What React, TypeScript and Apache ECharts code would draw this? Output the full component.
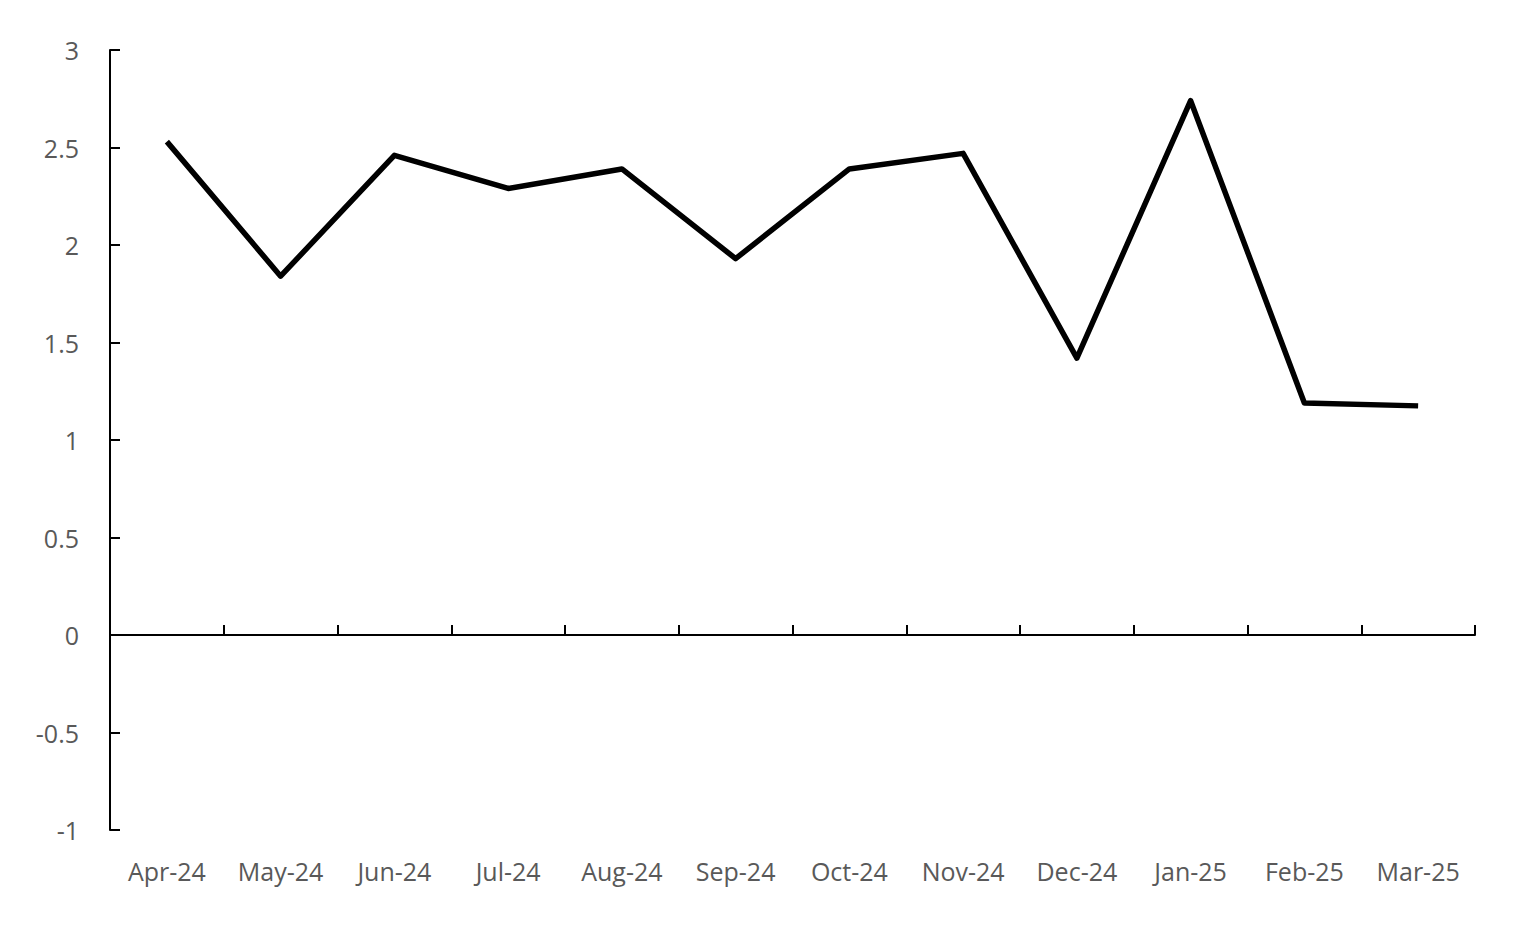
import React, { useEffect, useRef } from "react";
import * as echarts from "echarts";

const categories = ["Apr-24", "May-24", "Jun-24", "Jul-24", "Aug-24", "Sep-24", "Oct-24", "Nov-24", "Dec-24", "Jan-25", "Feb-25", "Mar-25"];
const values = [2.53, 1.84, 2.46, 2.29, 2.39, 1.93, 2.39, 2.47, 1.42, 2.74, 1.19, 1.175];

export default function App() {
  const ref = useRef<HTMLDivElement>(null);
  useEffect(() => {
    document.body.style.margin = "0";
    const chart = echarts.init(ref.current!, null, { renderer: "svg" });
    const labelStyle = { color: "#595959", fontSize: 25, fontFamily: "Open Sans" };
    chart.setOption({
      animation: false,
      backgroundColor: "#ffffff",
      grid: { left: 110, right: 61, top: 50, bottom: 101, containLabel: false },
      xAxis: [
        {
          type: "category",
          data: categories,
          position: "bottom",
          boundaryGap: true,
          axisLine: { show: false, onZero: false },
          axisTick: { show: false },
          axisLabel: { ...labelStyle, margin: 28, interval: 0 },
          splitLine: { show: false },
        },
        {
          type: "category",
          data: categories,
          position: "bottom",
          boundaryGap: true,
          axisLine: { show: true, onZero: true, onZeroAxisIndex: 0, lineStyle: { color: "#000", width: 2 } },
          axisTick: { show: true, inside: true, length: 10, lineStyle: { color: "#000", width: 2 } },
          axisLabel: { show: false },
          splitLine: { show: false },
        },
      ],
      yAxis: {
        type: "value",
        min: -1,
        max: 3,
        interval: 0.5,
        axisLine: { show: true, lineStyle: { color: "#000", width: 2 } },
        axisTick: { show: true, inside: true, length: 10, lineStyle: { color: "#000", width: 2 } },
        axisLabel: { ...labelStyle, margin: 31 },
        splitLine: { show: false },
      },
      series: [
        {
          type: "line",
          xAxisIndex: 0,
          data: values,
          showSymbol: false,
          symbol: "none",
          lineStyle: { color: "#000", width: 5.5, join: "round" },
        },
      ],
    });
    return () => chart.dispose();
  }, []);
  return <div ref={ref} style={{ width: 1536, height: 931 }} />;
}
